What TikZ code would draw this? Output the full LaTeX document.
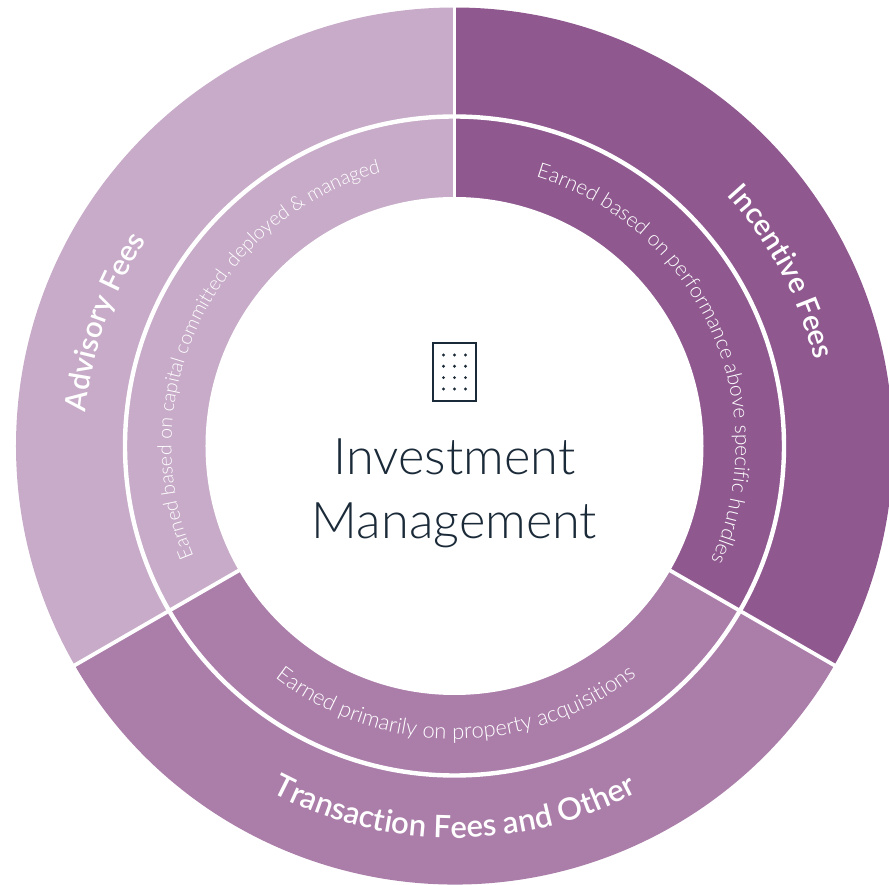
\documentclass[tikz,border=0pt]{standalone}
\usepackage{fontspec}
\usetikzlibrary{decorations.text}
\setmainfont{Lato Light}
\newfontfamily\boldlabel{Lato Semibold}
\definecolor{advisorypurple}{HTML}{C7ABC8}
\definecolor{incentivepurple}{HTML}{8F598F}
\definecolor{transactionpurple}{HTML}{AB7EAA}
\definecolor{iconink}{HTML}{1B2A38}
\tikzset{
  whitegap/.style={draw=white,line width=3.8pt},
  ringlabel/.style 2 args={decorate,decoration={text along path,text align=center,
    text={|\fontsize{#1}{25}\selectfont\color{white}|#2}}},
  feelabel/.style 2 args={decorate,decoration={text along path,text align=center,
    text={|\boldlabel\fontsize{#1}{33}\selectfont\color{white}|#2}}},
  griddot/.style={fill=iconink,circle,inner sep=0pt,minimum size=3.2pt},
  centerlabel/.style={text=iconink,font=\fontsize{50.5}{64}\selectfont,align=center}
}
\begin{document}
\begin{tikzpicture}[x=1pt,y=1pt]
  \useasboundingbox (-454.5,-439) rectangle (434.5,446) ;
  \clip (-454.5,-439) rectangle (434.5,446);
  \fill[advisorypurple] (0,0) -- (90:438.5) arc[start angle=90,end angle=210,radius=438.5] -- cycle;
  \fill[incentivepurple] (0,0) -- (90:438.5) arc[start angle=90,end angle=-30,radius=438.5] -- cycle;
  \fill[transactionpurple] (0,0) -- (210:438.5) arc[start angle=210,end angle=330,radius=438.5] -- cycle;
  \draw[whitegap,line width=4.4pt] (0,0) circle[radius=329.5];
  \foreach \a in {90,210,330}
    \draw[whitegap] (0,0) -- (\a:442);
  \fill[white] (0,0) circle[radius=249];
  \path[feelabel={29.5}{Incentive Fees}] (50:370) arc[start angle=50,end angle=6,radius=370];
  \path[feelabel={29.5}{Advisory Fees}] (182.5:370) arc[start angle=182.5,end angle=138.5,radius=370];
  \path[feelabel={31}{Transaction Fees and Other}] (230:392) arc[start angle=230,end angle=310,radius=392];
  \path[ringlabel={19.5}{Earned based on capital committed, deployed {\&} managed}] (215.5:283) arc[start angle=215.5,end angle=92.5,radius=283];
  \path[ringlabel={20.9}{Earned based on performance above specific hurdles}] (84.5:281) arc[start angle=84.5,end angle=-35.5,radius=281];
  \path[ringlabel={22}{Earned primarily on property acquisitions}] (228.3:293) arc[start angle=228.3,end angle=312.3,radius=293];
  \node[draw=iconink,line width=2.4pt,minimum width=43pt,minimum height=58pt,inner sep=0pt] (building) at (0,74) {};
  \foreach \i in {-1,0,1}
    \foreach \j in {-1.5,-0.5,0.5,1.5}
      \node[griddot] at (\i*11,74+\j*11.3) {};
  \node[centerlabel] (title) at (0,-47.5) {Investment\\Management};
\end{tikzpicture}
\end{document}
